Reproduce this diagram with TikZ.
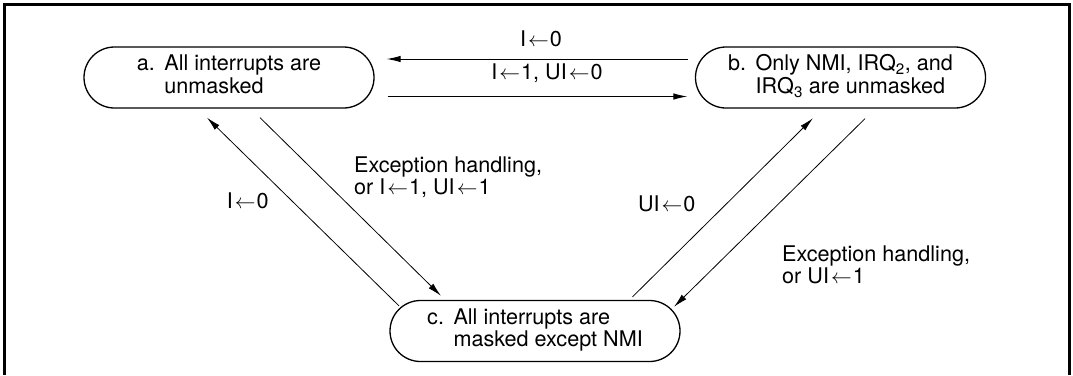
\documentclass[tikz,border=0pt]{standalone}
\usepackage{fontspec}
\setmainfont{TeX Gyre Heros}
\usetikzlibrary{arrows.meta,shapes.misc,positioning}

\newcommand{\setto}{\hspace{2pt}$\leftarrow$\hspace{1pt}}
\newcommand{\modetext}[3]{\begin{tabular}{@{}l@{\hspace{9.5pt}}l@{}}#1&#2\\&#3\end{tabular}}

\begin{document}
\begin{tikzpicture}[x=1pt,y=1pt,
    every node/.style={font=\fontsize{21.6}{22}\selectfont},
    mode/.style={draw,rounded rectangle,line width=1.3pt,minimum width=290pt,minimum height=61pt,inner sep=0pt},
    trans/.style={-{Latex[length=14pt,width=6.5pt]},line width=0.8pt},
    cond/.style={align=left,inner sep=0pt}]
  \useasboundingbox (0,0) rectangle (1073,-375);
  % outer frame (open at the bottom)
  \draw[line width=2.4pt] (4.5,-375) -- (4.5,-4.5) -- (1069.5,-4.5) -- (1069.5,-375);
  % the three masking modes
  \node[mode] (a) at (229,-77.5) {\modetext{a.}{All interrupts are}{unmasked}};
  \node[mode] (b) at (840.5,-77.5) {\modetext{b.}{Only NMI, IRQ\textsubscript{2}, and}{IRQ\textsubscript{3} are unmasked}};
  \node[mode] (c) at (535,-331) {\modetext{c.}{All interrupts are}{masked except NMI}};
  % transitions a <-> b
  \draw[trans,line width=1pt] ([shift={(-6.7,18.5)}]b.west) -- ([shift={(12,18.5)}]a.east);
  \draw[trans,line width=1pt] ([shift={(13,-19)}]a.east) -- ([shift={(-7.5,-19)}]b.west);
  % transitions a <-> c
  \draw[trans] ([shift={(-136,-6)}]c.north) -- ([shift={(-22,-9)}]a.south);
  \draw[trans] ([shift={(31,-9)}]a.south) -- ([shift={(-94,4)}]c.north);
  % transitions b <-> c
  \draw[trans] ([shift={(97.5,3)}]c.north) -- ([shift={(-27.5,-9.5)}]b.south);
  \draw[trans] ([shift={(24.5,-10)}]b.south) -- ([shift={(139,-7)}]c.north);
  % conditions
  \node[cond,anchor=base] (ba) at (541,-46) {I\setto0};
  \node[cond,anchor=base] (ab) at (547,-79) {I\setto1, UI\setto0};
  \node[cond,anchor=base west] (ac) at (354,-194) {Exception handling,\\or I\setto1, UI\setto1};
  \node[cond,anchor=base west] (ca) at (226.7,-208) {I\setto0};
  \node[cond,anchor=base west] (cb) at (637.8,-211) {UI\setto0};
  \node[cond,anchor=base west] (bc) at (782,-283) {Exception handling,\\or UI\setto1};
\end{tikzpicture}
\end{document}
